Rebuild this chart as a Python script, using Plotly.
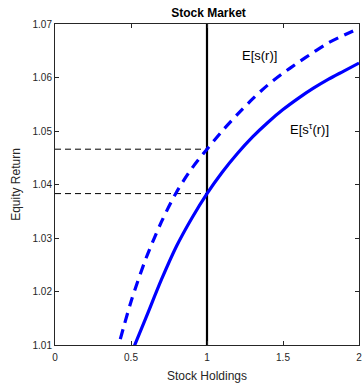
import plotly.graph_objects as go

# Stock holdings grid and expected equity returns
holdings_tau = [0.5, 0.6, 0.7, 0.8, 0.9, 1.0, 1.1, 1.2, 1.3, 1.4, 1.5, 1.6, 1.7, 1.8, 1.9, 2.0]
return_tau = [1.0083, 1.0152, 1.0222, 1.0285, 1.0337, 1.0383, 1.0423, 1.0458, 1.0489,
              1.0516, 1.0540, 1.0561, 1.0580, 1.0597, 1.0612, 1.0627]

holdings_s = [0.4, 0.5, 0.6, 0.7, 0.8, 0.9, 1.0, 1.1, 1.2, 1.3, 1.4, 1.5, 1.6, 1.7, 1.8, 1.9, 2.0]
return_s = [1.0080, 1.0181, 1.0263, 1.0330, 1.0386, 1.0430, 1.0466, 1.0500, 1.0531, 1.0560,
            1.0586, 1.0608, 1.0628, 1.0647, 1.0665, 1.0679, 1.0692]

market_holding = 1.0
x_ticks = [0, 0.5, 1, 1.5, 2]
x_tick_text = ["0", "0.5", "1", "1.5", "2"]
y_ticks = [1.01, 1.02, 1.03, 1.04, 1.05, 1.06, 1.07]
y_tick_text = ["1.01", "1.02", "1.03", "1.04", "1.05", "1.06", "1.07"]

ret_s_at_mkt = return_s[holdings_s.index(market_holding)]
ret_tau_at_mkt = return_tau[holdings_tau.index(market_holding)]

axis_col = "#262626"
font_family = "Liberation Sans, Arial, sans-serif"

fig = go.Figure()

# reference levels at the market holding
for lvl in [ret_s_at_mkt, ret_tau_at_mkt]:
    fig.add_trace(go.Scatter(x=[0, market_holding], y=[lvl, lvl], mode="lines",
                             line=dict(color="black", width=1, dash="6px,4px"),
                             showlegend=False, hoverinfo="skip"))

fig.add_trace(go.Scatter(x=[market_holding, market_holding], y=[1.01, 1.07], mode="lines",
                         line=dict(color="black", width=2.2), showlegend=False))

fig.add_trace(go.Scatter(x=holdings_s, y=return_s, mode="lines",
                         line=dict(color="#0000ff", width=3.2, dash="10px,7px",
                                   shape="spline", smoothing=0.8),
                         showlegend=False))
fig.add_trace(go.Scatter(x=holdings_tau, y=return_tau, mode="lines",
                         line=dict(color="#0000ff", width=3.2,
                                   shape="spline", smoothing=0.8),
                         showlegend=False))

fig.add_annotation(x=1.346, y=1.0641, text="E[s(r)]", showarrow=False,
                   font=dict(size=13, color="black", family=font_family))
fig.add_annotation(x=1.672, y=1.0504, text="E[s<sup>τ</sup>(r)]", showarrow=False,
                   font=dict(size=13, color="black", family=font_family))

fig.update_layout(
    width=363, height=383,
    margin=dict(l=55, r=1, t=24, b=38),
    paper_bgcolor="white", plot_bgcolor="white",
    font=dict(family=font_family, color=axis_col, size=10),
    title=dict(text="<b>Stock Market</b>", x=(55 + 362) / 2 / 363, xanchor="center",
               y=1 - 13 / 383, yanchor="middle", yref="container",
               font=dict(size=12, color="black", family=font_family)),
)
fig.update_xaxes(range=[0, 2], tickvals=x_ticks, ticktext=x_tick_text,
                 ticks="inside", ticklen=4, tickcolor=axis_col, mirror="ticks",
                 showline=True, linecolor=axis_col, linewidth=1, showgrid=False,
                 zeroline=False, tickfont=dict(size=10, color=axis_col),
                 ticklabeloverflow="allow", ticklabelstandoff=3,
                 title=dict(text="Stock Holdings", standoff=11,
                            font=dict(size=12, color=axis_col)))
fig.update_yaxes(range=[1.01, 1.07], tickvals=y_ticks, ticktext=y_tick_text,
                 ticks="inside", ticklen=4, tickcolor=axis_col, mirror="ticks",
                 showline=True, linecolor=axis_col, linewidth=1, showgrid=False,
                 zeroline=False, tickfont=dict(size=10, color=axis_col),
                 title=dict(text="Equity Return", standoff=9,
                            font=dict(size=12, color=axis_col)))

fig.write_html("out.html")
